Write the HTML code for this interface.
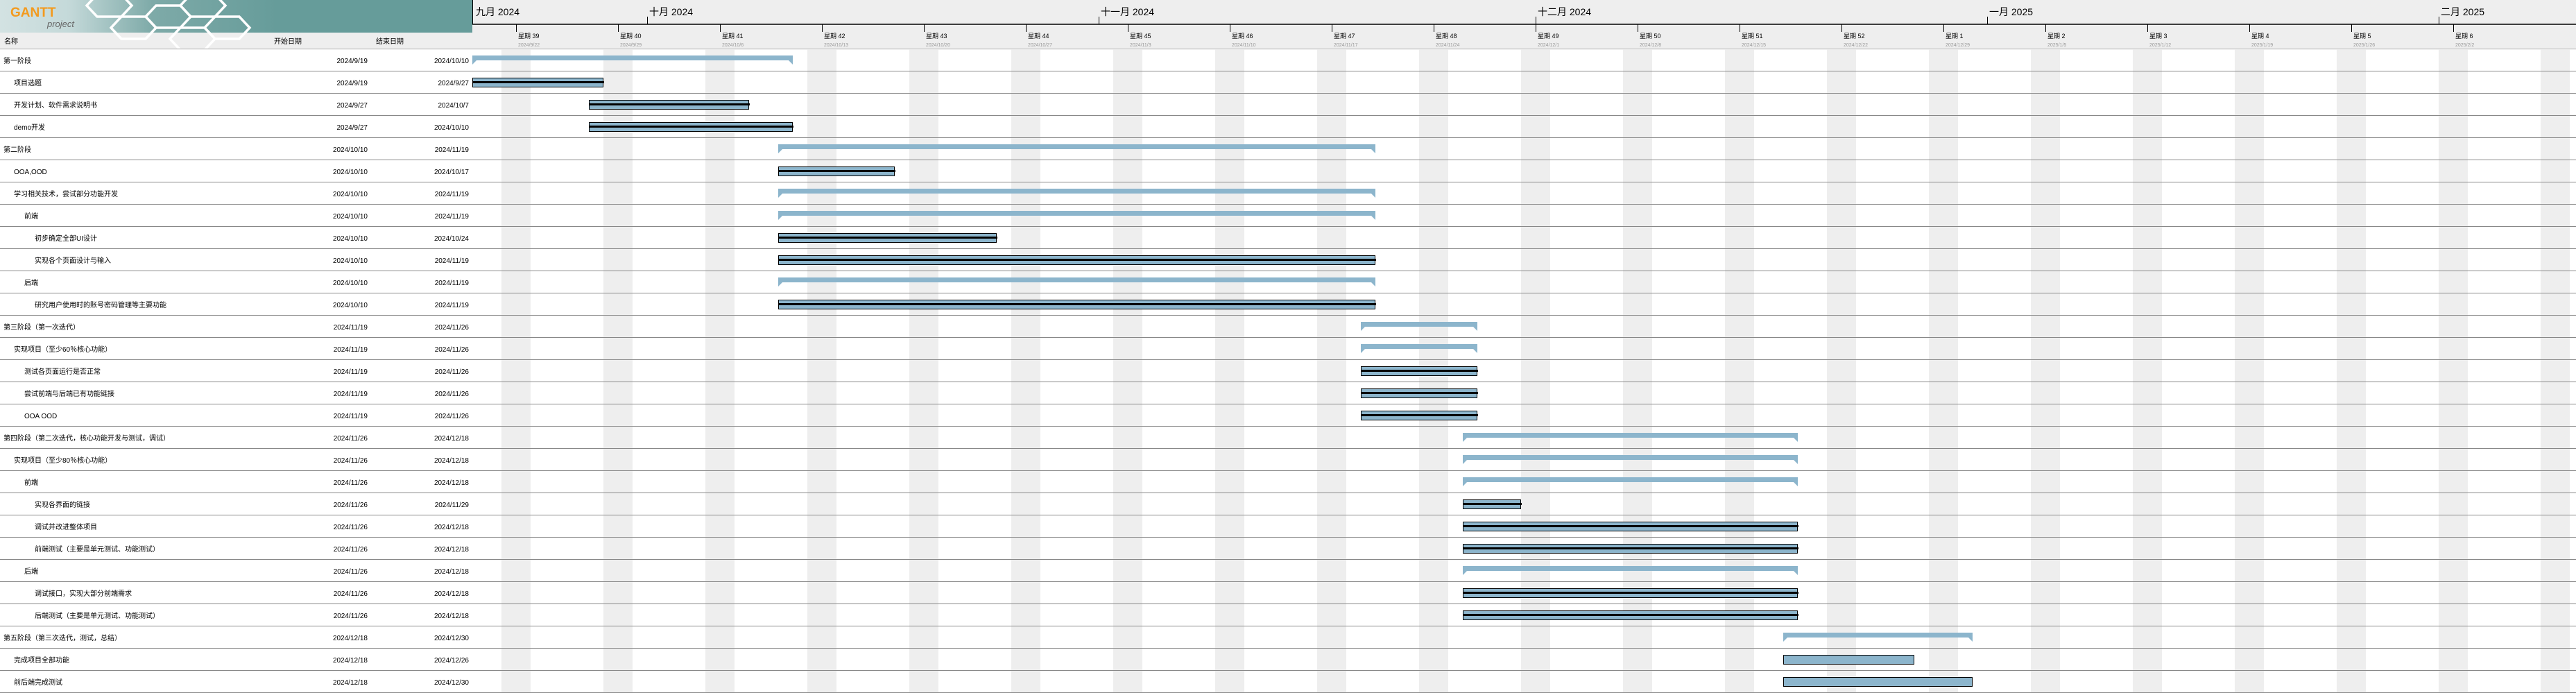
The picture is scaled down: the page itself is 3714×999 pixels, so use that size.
<!DOCTYPE html>
<html><head><meta charset="utf-8"><style>
html,body{margin:0;padding:0;background:#fff;}
svg{display:block;}
text{font-family:"Liberation Sans","Noto Sans CJK SC",sans-serif;}
</style></head><body>
<svg width="3714" height="999" xmlns="http://www.w3.org/2000/svg">
<defs>
<linearGradient id="lg" x1="0" x2="1" y1="0" y2="0">
<stop offset="0" stop-color="#d3e2e2"/><stop offset="0.25" stop-color="#c4d9d9"/><stop offset="0.55" stop-color="#7eaaa8"/><stop offset="1" stop-color="#669c9a"/>
</linearGradient>
</defs>
<rect x="0" y="0" width="3714" height="70" fill="#eeeeee"/>
<rect x="0" y="70" width="3714" height="929" fill="#fff"/>
<rect x="0" y="0" width="681" height="47" fill="#669c9a"/>
<rect x="0" y="0" width="400" height="47" fill="url(#lg)"/>
<g fill="none" stroke="#fff" stroke-width="3.5">
<polygon points="140,-8 175,-8 190,8 175,24 140,24 125,8"/>
<polygon points="175,24 210,24 225,40 210,56 175,56 160,40"/>
<polygon points="225,8 260,8 275,24 260,40 225,40 210,24"/>
<polygon points="275,-8 310,-8 325,8 310,24 275,24 260,8"/>
<polygon points="260,40 295,40 310,56 295,72 260,72 245,56"/>
<polygon points="310,24 345,24 360,40 345,56 310,56 295,40"/>
</g>
<text x="15" y="24" font-size="19" font-weight="bold" fill="#f39a1e">GANTT</text>
<text x="68" y="39" font-size="13" font-style="italic" fill="#666" font-family="Liberation Serif,serif">project</text>
<g font-size="10" fill="#000">
<text x="6" y="63">名称</text>
<text x="395" y="63">开始日期</text>
<text x="542" y="63">结束日期</text>
</g>
<line x1="0" y1="70.5" x2="3714" y2="70.5" stroke="#cccccc" stroke-width="1.5"/>
<g fill="#eeeeee">
<rect x="723" y="71" width="42" height="928"/><rect x="870" y="71" width="42" height="928"/><rect x="1017" y="71" width="42" height="928"/><rect x="1164" y="71" width="42" height="928"/><rect x="1311" y="71" width="42" height="928"/><rect x="1458" y="71" width="42" height="928"/><rect x="1605" y="71" width="42" height="928"/><rect x="1752" y="71" width="42" height="928"/><rect x="1899" y="71" width="42" height="928"/><rect x="2046" y="71" width="42" height="928"/><rect x="2193" y="71" width="42" height="928"/><rect x="2340" y="71" width="42" height="928"/><rect x="2487" y="71" width="42" height="928"/><rect x="2634" y="71" width="42" height="928"/><rect x="2781" y="71" width="42" height="928"/><rect x="2928" y="71" width="42" height="928"/><rect x="3075" y="71" width="42" height="928"/><rect x="3222" y="71" width="42" height="928"/><rect x="3369" y="71" width="42" height="928"/><rect x="3516" y="71" width="42" height="928"/><rect x="3663" y="71" width="42" height="928"/>
</g>
<line x1="681" y1="35" x2="3714" y2="35" stroke="#000" stroke-width="1.5"/>
<line x1="681.5" y1="0" x2="681.5" y2="35" stroke="#000" stroke-width="1"/>
<g stroke="#000" stroke-width="1">
<line x1="933.5" y1="24" x2="933.5" y2="35"/><line x1="1584.5" y1="24" x2="1584.5" y2="35"/><line x1="2214.5" y1="24" x2="2214.5" y2="35"/><line x1="2865.5" y1="24" x2="2865.5" y2="35"/><line x1="3516.5" y1="24" x2="3516.5" y2="35"/>
<line x1="744.5" y1="35" x2="744.5" y2="46"/><line x1="891.5" y1="35" x2="891.5" y2="46"/><line x1="1038.5" y1="35" x2="1038.5" y2="46"/><line x1="1185.5" y1="35" x2="1185.5" y2="46"/><line x1="1332.5" y1="35" x2="1332.5" y2="46"/><line x1="1479.5" y1="35" x2="1479.5" y2="46"/><line x1="1626.5" y1="35" x2="1626.5" y2="46"/><line x1="1773.5" y1="35" x2="1773.5" y2="46"/><line x1="1920.5" y1="35" x2="1920.5" y2="46"/><line x1="2067.5" y1="35" x2="2067.5" y2="46"/><line x1="2214.5" y1="35" x2="2214.5" y2="46"/><line x1="2361.5" y1="35" x2="2361.5" y2="46"/><line x1="2508.5" y1="35" x2="2508.5" y2="46"/><line x1="2655.5" y1="35" x2="2655.5" y2="46"/><line x1="2802.5" y1="35" x2="2802.5" y2="46"/><line x1="2949.5" y1="35" x2="2949.5" y2="46"/><line x1="3096.5" y1="35" x2="3096.5" y2="46"/><line x1="3243.5" y1="35" x2="3243.5" y2="46"/><line x1="3390.5" y1="35" x2="3390.5" y2="46"/><line x1="3537.5" y1="35" x2="3537.5" y2="46"/>
</g>
<g font-size="14" fill="#000">
<text x="686" y="22">九月 2024</text><text x="936" y="22">十月 2024</text><text x="1587" y="22">十一月 2024</text><text x="2217" y="22">十二月 2024</text><text x="2868" y="22">一月 2025</text><text x="3519" y="22">二月 2025</text>
</g>
<g font-size="9" fill="#000">
<text x="747" y="55">星期 39</text><text x="894" y="55">星期 40</text><text x="1041" y="55">星期 41</text><text x="1188" y="55">星期 42</text><text x="1335" y="55">星期 43</text><text x="1482" y="55">星期 44</text><text x="1629" y="55">星期 45</text><text x="1776" y="55">星期 46</text><text x="1923" y="55">星期 47</text><text x="2070" y="55">星期 48</text><text x="2217" y="55">星期 49</text><text x="2364" y="55">星期 50</text><text x="2511" y="55">星期 51</text><text x="2658" y="55">星期 52</text><text x="2805" y="55">星期 1</text><text x="2952" y="55">星期 2</text><text x="3099" y="55">星期 3</text><text x="3246" y="55">星期 4</text><text x="3393" y="55">星期 5</text><text x="3540" y="55">星期 6</text>
</g>
<g font-size="7" fill="#999">
<text x="747" y="67">2024/9/22</text><text x="894" y="67">2024/9/29</text><text x="1041" y="67">2024/10/6</text><text x="1188" y="67">2024/10/13</text><text x="1335" y="67">2024/10/20</text><text x="1482" y="67">2024/10/27</text><text x="1629" y="67">2024/11/3</text><text x="1776" y="67">2024/11/10</text><text x="1923" y="67">2024/11/17</text><text x="2070" y="67">2024/11/24</text><text x="2217" y="67">2024/12/1</text><text x="2364" y="67">2024/12/8</text><text x="2511" y="67">2024/12/15</text><text x="2658" y="67">2024/12/22</text><text x="2805" y="67">2024/12/29</text><text x="2952" y="67">2025/1/5</text><text x="3099" y="67">2025/1/12</text><text x="3246" y="67">2025/1/19</text><text x="3393" y="67">2025/1/26</text><text x="3540" y="67">2025/2/2</text>
</g>
<g stroke="#888" stroke-width="1">
<line x1="0" y1="102.5" x2="3714" y2="102.5"/><line x1="0" y1="134.5" x2="3714" y2="134.5"/><line x1="0" y1="166.5" x2="3714" y2="166.5"/><line x1="0" y1="198.5" x2="3714" y2="198.5"/><line x1="0" y1="230.5" x2="3714" y2="230.5"/><line x1="0" y1="262.5" x2="3714" y2="262.5"/><line x1="0" y1="294.5" x2="3714" y2="294.5"/><line x1="0" y1="326.5" x2="3714" y2="326.5"/><line x1="0" y1="358.5" x2="3714" y2="358.5"/><line x1="0" y1="390.5" x2="3714" y2="390.5"/><line x1="0" y1="422.5" x2="3714" y2="422.5"/><line x1="0" y1="454.5" x2="3714" y2="454.5"/><line x1="0" y1="486.5" x2="3714" y2="486.5"/><line x1="0" y1="518.5" x2="3714" y2="518.5"/><line x1="0" y1="550.5" x2="3714" y2="550.5"/><line x1="0" y1="582.5" x2="3714" y2="582.5"/><line x1="0" y1="614.5" x2="3714" y2="614.5"/><line x1="0" y1="646.5" x2="3714" y2="646.5"/><line x1="0" y1="678.5" x2="3714" y2="678.5"/><line x1="0" y1="710.5" x2="3714" y2="710.5"/><line x1="0" y1="742.5" x2="3714" y2="742.5"/><line x1="0" y1="774.5" x2="3714" y2="774.5"/><line x1="0" y1="806.5" x2="3714" y2="806.5"/><line x1="0" y1="838.5" x2="3714" y2="838.5"/><line x1="0" y1="870.5" x2="3714" y2="870.5"/><line x1="0" y1="902.5" x2="3714" y2="902.5"/><line x1="0" y1="934.5" x2="3714" y2="934.5"/><line x1="0" y1="966.5" x2="3714" y2="966.5"/><line x1="0" y1="998.5" x2="3714" y2="998.5"/>
</g>
<g font-size="10" fill="#000">
<text x="5" y="91">第一阶段</text><text x="530" y="91" text-anchor="end">2024/9/19</text><text x="676" y="91" text-anchor="end">2024/10/10</text>
<text x="20" y="123">项目选题</text><text x="530" y="123" text-anchor="end">2024/9/19</text><text x="676" y="123" text-anchor="end">2024/9/27</text>
<text x="20" y="155">开发计划、软件需求说明书</text><text x="530" y="155" text-anchor="end">2024/9/27</text><text x="676" y="155" text-anchor="end">2024/10/7</text>
<text x="20" y="187">demo开发</text><text x="530" y="187" text-anchor="end">2024/9/27</text><text x="676" y="187" text-anchor="end">2024/10/10</text>
<text x="5" y="219">第二阶段</text><text x="530" y="219" text-anchor="end">2024/10/10</text><text x="676" y="219" text-anchor="end">2024/11/19</text>
<text x="20" y="251">OOA,OOD</text><text x="530" y="251" text-anchor="end">2024/10/10</text><text x="676" y="251" text-anchor="end">2024/10/17</text>
<text x="20" y="283">学习相关技术，尝试部分功能开发</text><text x="530" y="283" text-anchor="end">2024/10/10</text><text x="676" y="283" text-anchor="end">2024/11/19</text>
<text x="35" y="315">前端</text><text x="530" y="315" text-anchor="end">2024/10/10</text><text x="676" y="315" text-anchor="end">2024/11/19</text>
<text x="50" y="347">初步确定全部UI设计</text><text x="530" y="347" text-anchor="end">2024/10/10</text><text x="676" y="347" text-anchor="end">2024/10/24</text>
<text x="50" y="379">实现各个页面设计与输入</text><text x="530" y="379" text-anchor="end">2024/10/10</text><text x="676" y="379" text-anchor="end">2024/11/19</text>
<text x="35" y="411">后端</text><text x="530" y="411" text-anchor="end">2024/10/10</text><text x="676" y="411" text-anchor="end">2024/11/19</text>
<text x="50" y="443">研究用户使用时的账号密码管理等主要功能</text><text x="530" y="443" text-anchor="end">2024/10/10</text><text x="676" y="443" text-anchor="end">2024/11/19</text>
<text x="5" y="475">第三阶段（第一次迭代）</text><text x="530" y="475" text-anchor="end">2024/11/19</text><text x="676" y="475" text-anchor="end">2024/11/26</text>
<text x="20" y="507">实现项目（至少60％核心功能）</text><text x="530" y="507" text-anchor="end">2024/11/19</text><text x="676" y="507" text-anchor="end">2024/11/26</text>
<text x="35" y="539">测试各页面运行是否正常</text><text x="530" y="539" text-anchor="end">2024/11/19</text><text x="676" y="539" text-anchor="end">2024/11/26</text>
<text x="35" y="571">尝试前端与后端已有功能链接</text><text x="530" y="571" text-anchor="end">2024/11/19</text><text x="676" y="571" text-anchor="end">2024/11/26</text>
<text x="35" y="603">OOA OOD</text><text x="530" y="603" text-anchor="end">2024/11/19</text><text x="676" y="603" text-anchor="end">2024/11/26</text>
<text x="5" y="635">第四阶段（第二次迭代，核心功能开发与测试，调试）</text><text x="530" y="635" text-anchor="end">2024/11/26</text><text x="676" y="635" text-anchor="end">2024/12/18</text>
<text x="20" y="667">实现项目（至少80％核心功能）</text><text x="530" y="667" text-anchor="end">2024/11/26</text><text x="676" y="667" text-anchor="end">2024/12/18</text>
<text x="35" y="699">前端</text><text x="530" y="699" text-anchor="end">2024/11/26</text><text x="676" y="699" text-anchor="end">2024/12/18</text>
<text x="50" y="731">实现各界面的链接</text><text x="530" y="731" text-anchor="end">2024/11/26</text><text x="676" y="731" text-anchor="end">2024/11/29</text>
<text x="50" y="763">调试并改进整体项目</text><text x="530" y="763" text-anchor="end">2024/11/26</text><text x="676" y="763" text-anchor="end">2024/12/18</text>
<text x="50" y="795">前端测试（主要是单元测试、功能测试）</text><text x="530" y="795" text-anchor="end">2024/11/26</text><text x="676" y="795" text-anchor="end">2024/12/18</text>
<text x="35" y="827">后端</text><text x="530" y="827" text-anchor="end">2024/11/26</text><text x="676" y="827" text-anchor="end">2024/12/18</text>
<text x="50" y="859">调试接口，实现大部分前端需求</text><text x="530" y="859" text-anchor="end">2024/11/26</text><text x="676" y="859" text-anchor="end">2024/12/18</text>
<text x="50" y="891">后端测试（主要是单元测试、功能测试）</text><text x="530" y="891" text-anchor="end">2024/11/26</text><text x="676" y="891" text-anchor="end">2024/12/18</text>
<text x="5" y="923">第五阶段（第三次迭代，测试，总结）</text><text x="530" y="923" text-anchor="end">2024/12/18</text><text x="676" y="923" text-anchor="end">2024/12/30</text>
<text x="20" y="955">完成项目全部功能</text><text x="530" y="955" text-anchor="end">2024/12/18</text><text x="676" y="955" text-anchor="end">2024/12/26</text>
<text x="20" y="987">前后端完成测试</text><text x="530" y="987" text-anchor="end">2024/12/18</text><text x="676" y="987" text-anchor="end">2024/12/30</text>
</g>
<g fill="#8cb5cc">
<polygon points="681,80 1143,80 1143,93 1137,87 687,87 681,93"/>
<polygon points="1122,208 1983,208 1983,221 1977,215 1128,215 1122,221"/>
<polygon points="1122,272 1983,272 1983,285 1977,279 1128,279 1122,285"/>
<polygon points="1122,304 1983,304 1983,317 1977,311 1128,311 1122,317"/>
<polygon points="1122,400 1983,400 1983,413 1977,407 1128,407 1122,413"/>
<polygon points="1962,464 2130,464 2130,477 2124,471 1968,471 1962,477"/>
<polygon points="1962,496 2130,496 2130,509 2124,503 1968,503 1962,509"/>
<polygon points="2109,624 2592,624 2592,637 2586,631 2115,631 2109,637"/>
<polygon points="2109,656 2592,656 2592,669 2586,663 2115,663 2109,669"/>
<polygon points="2109,688 2592,688 2592,701 2586,695 2115,695 2109,701"/>
<polygon points="2109,816 2592,816 2592,829 2586,823 2115,823 2109,829"/>
<polygon points="2571,912 2844,912 2844,925 2838,919 2577,919 2571,925"/>
</g>
<g fill="#8cb5cc" stroke="#000" stroke-width="1">
<rect x="681.5" y="112.5" width="188" height="13"/>
<rect x="849.5" y="144.5" width="230" height="13"/>
<rect x="849.5" y="176.5" width="293" height="13"/>
<rect x="1122.5" y="240.5" width="167" height="13"/>
<rect x="1122.5" y="336.5" width="314" height="13"/>
<rect x="1122.5" y="368.5" width="860" height="13"/>
<rect x="1122.5" y="432.5" width="860" height="13"/>
<rect x="1962.5" y="528.5" width="167" height="13"/>
<rect x="1962.5" y="560.5" width="167" height="13"/>
<rect x="1962.5" y="592.5" width="167" height="13"/>
<rect x="2109.5" y="720.5" width="83" height="13"/>
<rect x="2109.5" y="752.5" width="482" height="13"/>
<rect x="2109.5" y="784.5" width="482" height="13"/>
<rect x="2109.5" y="848.5" width="482" height="13"/>
<rect x="2109.5" y="880.5" width="482" height="13"/>
<rect x="2571.5" y="944.5" width="188" height="13"/>
<rect x="2571.5" y="976.5" width="272" height="13"/>
</g>
<g fill="#000">
<rect x="681" y="117" width="190" height="3"/>
<rect x="849" y="149" width="232" height="3"/>
<rect x="849" y="181" width="295" height="3"/>
<rect x="1122" y="245" width="169" height="3"/>
<rect x="1122" y="341" width="316" height="3"/>
<rect x="1122" y="373" width="862" height="3"/>
<rect x="1122" y="437" width="862" height="3"/>
<rect x="1962" y="533" width="169" height="3"/>
<rect x="1962" y="565" width="169" height="3"/>
<rect x="1962" y="597" width="169" height="3"/>
<rect x="2109" y="725" width="85" height="3"/>
<rect x="2109" y="757" width="484" height="3"/>
<rect x="2109" y="789" width="484" height="3"/>
<rect x="2109" y="853" width="484" height="3"/>
<rect x="2109" y="885" width="484" height="3"/>
</g>
</svg>
</body></html>
